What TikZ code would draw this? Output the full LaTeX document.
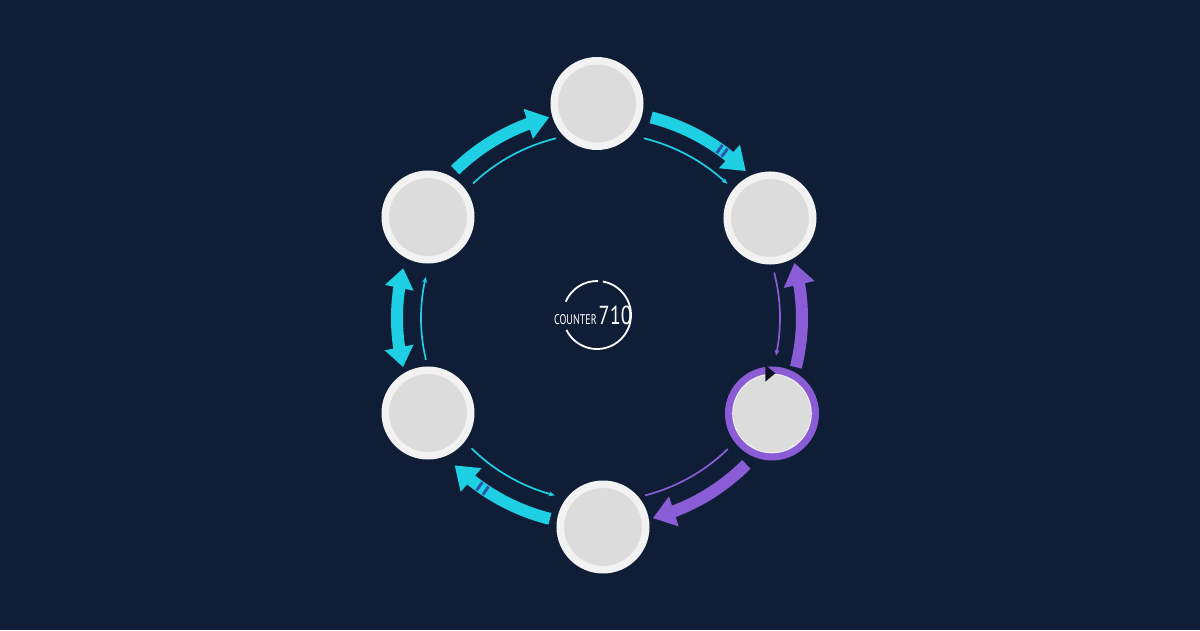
\documentclass[tikz,border=0pt]{standalone}
\usepackage{graphicx}
\usepackage{fontspec}
\setmainfont{PT Sans}
\usetikzlibrary{arrows.meta,bending}
\definecolor{bg}{HTML}{0F1E36}
\definecolor{cyanc}{HTML}{1FCFE4}
\definecolor{purp}{HTML}{8A5CD6}
\definecolor{bandc}{HTML}{2C52A8}
\definecolor{ringw}{HTML}{F2F2F2}
\definecolor{fillg}{HTML}{DCDCDC}
\definecolor{tric}{HTML}{0B1322}
\begin{document}
\begin{tikzpicture}[x=1pt,y=1pt,
  stepnode/.style={circle, inner sep=0pt, minimum size=85.5pt, fill=fillg, draw=ringw, line width=7.5pt},
  activenode/.style={circle, inner sep=0pt, minimum size=86pt, fill=fillg, draw=purp, line width=8pt},
  bigcyan/.style={draw=cyanc, line width=12pt, -{Triangle[width=30pt,length=22pt]}},
  bigpurp/.style={draw=purp, line width=12pt, -{Triangle[width=30pt,length=22pt]}},
  bigboth/.style={draw=cyanc, line width=12pt, {Triangle[width=28pt,length=20pt]}-{Triangle[width=28pt,length=20pt]}},
  thincyan/.style={draw=cyanc, line width=1.7pt},
  thinpurp/.style={draw=purp, line width=1.7pt},
  thinhead/.style={-{Stealth[length=6pt,width=5pt]}},
  bandmark/.style={draw=bandc, line width=10pt},
]
\fill[bg] (-600,-312) rectangle (600,318);
\useasboundingbox (-600,-312) rectangle (600,318);

% nodes
\node[stepnode] (T)  at (-3,214.5) {};
\node[stepnode] (UR) at (170,100) {};
\node[activenode] (LR) at (172,-95.5) {};
\draw[ringw, line width=1.2pt] (LR.center) circle[radius=39.2];
\node[stepnode] (B)  at (3,-209) {};
\node[stepnode] (LL) at (-172,-95) {};
\node[stepnode] (UL) at (-172,101) {};

% marker on active node
\coordinate (m1) at (165.3,-47);
\coordinate (m2) at (165.3,-63.7);
\coordinate (m3) at (175.3,-55.3);
\fill[tric] (m1) -- (m2) -- (m3) -- cycle;

% thick arrows
\coordinate (a1s) at (134.4:207);
\draw[bigcyan] (a1s) arc[start angle=134.4, end angle=104.2, radius=207];
\coordinate (a2s) at (75.7:207);
\draw[bigcyan] (a2s) arc[start angle=75.7, end angle=45.2, radius=207];
\coordinate (b2a) at (55.1:207);
\draw[bandmark] (b2a) arc[start angle=55.1, end angle=54.3, radius=207];
\coordinate (b2b) at (53.4:207);
\draw[bandmark] (b2b) arc[start angle=53.4, end angle=52.6, radius=207];
\coordinate (a3s) at (-14.1:202);
\draw[bigpurp] (a3s) arc[start angle=-14.1, end angle=15.8, radius=202];
\coordinate (a4s) at (-45:207);
\draw[bigpurp] (a4s) arc[start angle=-45, end angle=-75.2, radius=207];
\coordinate (a5s) at (256:207);
\draw[bigcyan] (a5s) arc[start angle=256, end angle=225.4, radius=207];
\coordinate (b5a) at (236.9:207);
\draw[bandmark] (b5a) arc[start angle=236.9, end angle=236.1, radius=207];
\coordinate (b5b) at (234.8:207);
\draw[bandmark] (b5b) arc[start angle=234.8, end angle=234.0, radius=207];
\coordinate (a6s) at (194:203);
\draw[bigboth] (a6s) arc[start angle=194, end angle=165.8, radius=203];

% thin arrows
\coordinate (t1s) at (133.3:185);
\draw[thincyan] (t1s) arc[start angle=133.3, end angle=103.7, radius=185];
\coordinate (t2s) at (76.3:185);
\draw[thincyan, thinhead] (t2s) arc[start angle=76.3, end angle=46.5, radius=185];
\coordinate (t3s) at (14.6:180);
\draw[thinpurp, thinhead] (t3s) arc[start angle=14.6, end angle=-12.1, radius=180];
\coordinate (t4s) at (-45.7:183);
\draw[thinpurp] (t4s) arc[start angle=-45.7, end angle=-75.7, radius=183];
\coordinate (t5s) at (225.4:183);
\draw[thincyan, thinhead] (t5s) arc[start angle=225.4, end angle=255.7, radius=183];
\coordinate (t6s) at (193.5:179);
\draw[thincyan, thinhead] (t6s) arc[start angle=193.5, end angle=166.7, radius=179];

% counter
\coordinate (C) at (-3,3);
\draw[white, line width=1.8pt] (C) ++(88:34) arc[start angle=88, end angle=157, radius=34];
\draw[white, line width=1.8pt] (C) ++(206:34) arc[start angle=206, end angle=440, radius=34];
\node[anchor=base east, inner sep=0pt, text=white, font=\fontsize{14}{14}\selectfont] (lbl) at (-3,-6) {\scalebox{0.72}[1]{COUNTER}};
\node[anchor=base west, inner sep=0pt, text=white, font=\fontsize{26}{26}\selectfont] (num) at (-1.5,-6) {\scalebox{0.78}[1]{710}};
\end{tikzpicture}
\end{document}
